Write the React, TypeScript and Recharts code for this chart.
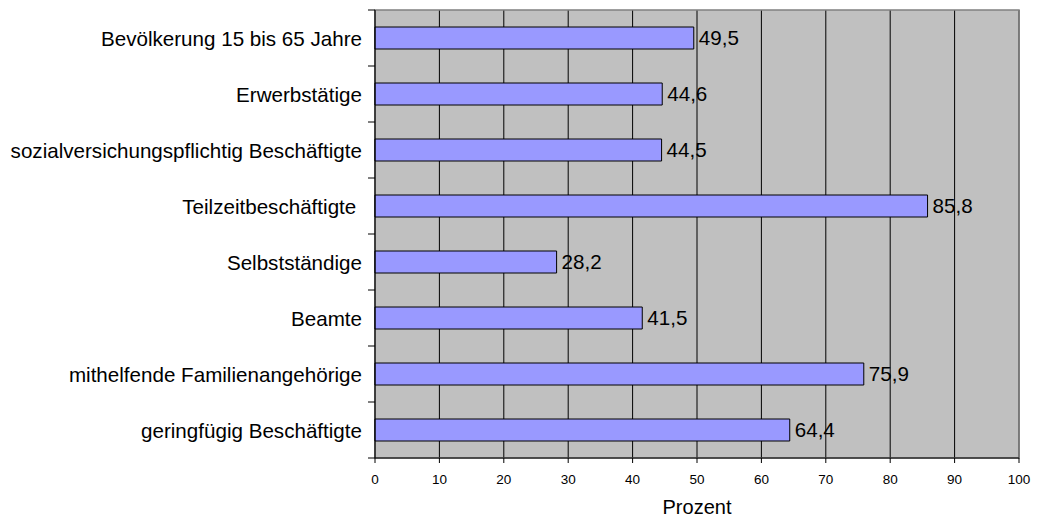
import React from 'react';
import { BarChart, Bar, XAxis, YAxis, CartesianGrid, LabelList, ReferenceArea } from 'recharts';

const categories = [
  'Bevölkerung 15 bis 65 Jahre',
  'Erwerbstätige',
  'sozialversichungspflichtig Beschäftigte',
  'Teilzeitbeschäftigte ',
  'Selbstständige',
  'Beamte',
  'mithelfende Familienangehörige',
  'geringfügig Beschäftigte',
];
const values = [49.5, 44.6, 44.5, 85.8, 28.2, 41.5, 75.9, 64.4];
const xTicks = [0, 10, 20, 30, 40, 50, 60, 70, 80, 90, 100];

const data = categories.map((name, i) => ({ name, value: values[i] }));

const WIDTH = 1037;
const HEIGHT = 518;
const MARGIN = { top: 10, right: 18, bottom: 0, left: 0 };
const Y_WIDTH = 375;
const X_HEIGHT = 60;
const PLOT_LEFT = MARGIN.left + Y_WIDTH;
const HALF_BAND = (HEIGHT - MARGIN.top - MARGIN.bottom - X_HEIGHT) / categories.length / 2;
const FONT = '"Liberation Sans", Arial, sans-serif';

if (typeof document !== 'undefined') {
  document.body.style.margin = '0';
}

const formatValue = (v: number) => v.toFixed(1).replace('.', ',');

const CategoryTick = ({ y, payload, index }: any) => {
  const isLast = index === categories.length - 1;
  return (
    <g>
      <line x1={PLOT_LEFT - 7} x2={PLOT_LEFT} y1={y - HALF_BAND} y2={y - HALF_BAND} stroke="#000" />
      {isLast && (
        <line x1={PLOT_LEFT - 7} x2={PLOT_LEFT} y1={y + HALF_BAND} y2={y + HALF_BAND} stroke="#000" />
      )}
      <text
        x={PLOT_LEFT - 13}
        y={y}
        dy="0.38em"
        textAnchor="end"
        fill="#000"
        fontSize={20.6}
        fontFamily={FONT}
        style={{ whiteSpace: 'pre' }}
      >
        {payload.value}
      </text>
    </g>
  );
};

export default function App() {
  return (
    <div style={{ width: WIDTH, height: HEIGHT, background: '#fff' }}>
      <BarChart width={WIDTH} height={HEIGHT} data={data} layout="vertical" margin={MARGIN}>
        <CartesianGrid horizontal={false} stroke="#000" fill="#C0C0C0" fillOpacity={1} />
        <ReferenceArea x1={0} x2={100} fill="none" stroke="#808080" strokeWidth={1.5} ifOverflow="visible" />
        <XAxis
          type="number"
          domain={[0, 100]}
          ticks={xTicks}
          interval={0}
          height={X_HEIGHT}
          tickSize={5}
          tickMargin={11}
          stroke="#000"
          tick={{ fill: '#000', fontSize: 13.5, fontFamily: FONT }}
          label={({ viewBox }: any) => (
            <text
              x={viewBox.x + viewBox.width / 2}
              y={viewBox.y + viewBox.height - 4}
              textAnchor="middle"
              fill="#000"
              fontSize={20}
              fontFamily={FONT}
            >
              Prozent
            </text>
          )}
        />
        <YAxis
          type="category"
          dataKey="name"
          width={Y_WIDTH}
          tickLine={false}
          stroke="#000"
          interval={0}
          tick={<CategoryTick />}
        />
        <Bar dataKey="value" fill="#9999FF" stroke="#000" strokeWidth={1} barSize={22} isAnimationActive={false}>
          <LabelList
            dataKey="value"
            position="right"
            offset={5}
            formatter={(v: any) => formatValue(Number(v))}
            fill="#000"
            fontSize={20.6}
            fontFamily={FONT}
          />
        </Bar>
      </BarChart>
    </div>
  );
}
